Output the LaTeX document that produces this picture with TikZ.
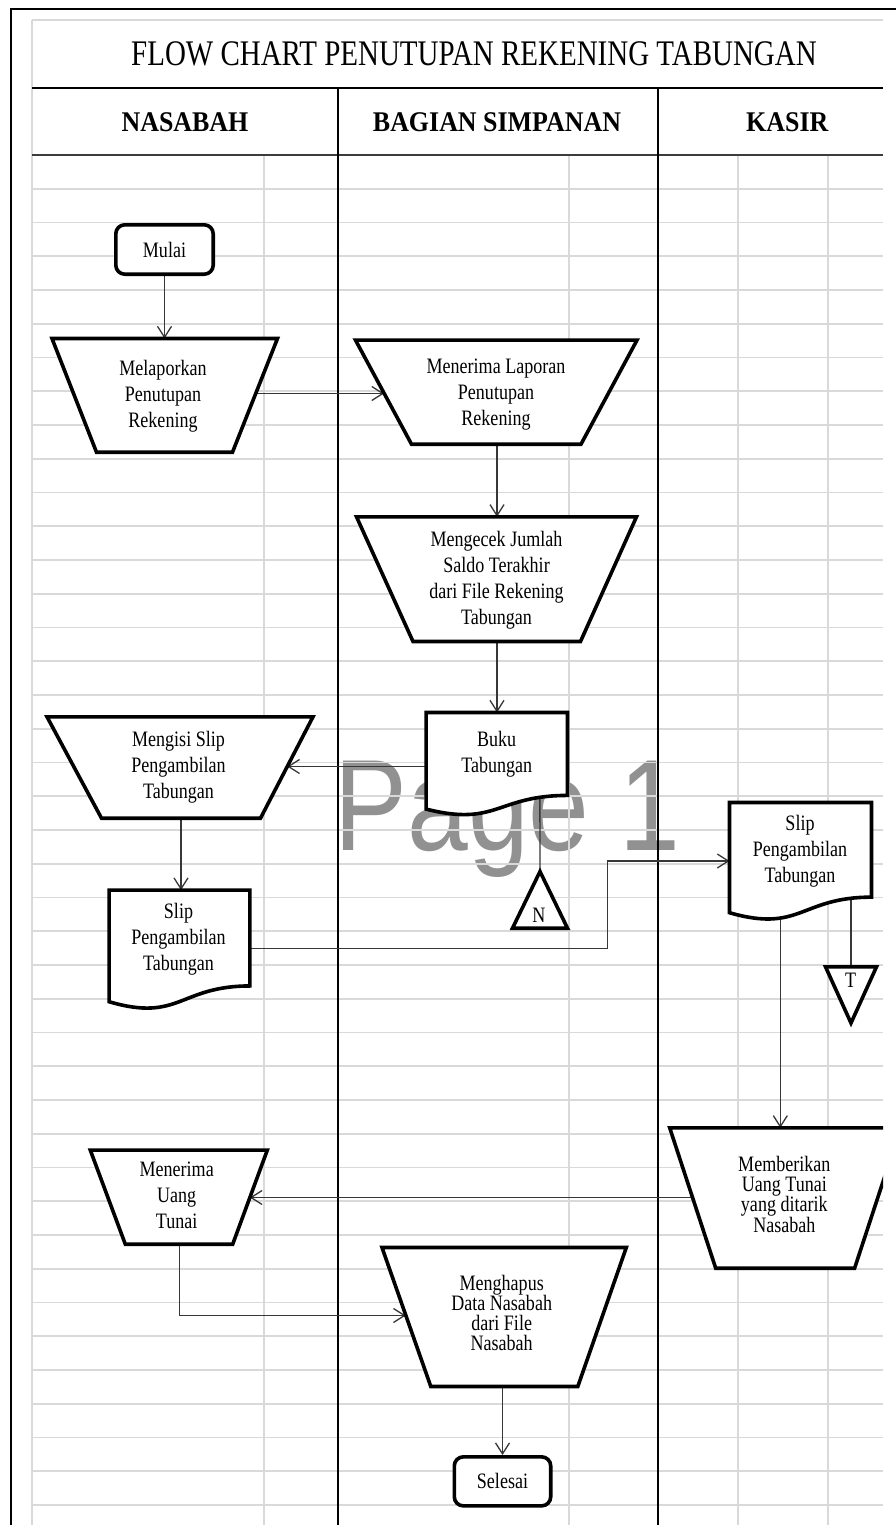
\documentclass[tikz,border=0pt]{standalone}
\usepackage{fontspec}
\setmainfont{Liberation Serif}
\newfontfamily\bodyf[FakeStretch=0.82]{Liberation Serif}
\newfontfamily\titlef[FakeStretch=0.805]{Liberation Serif}
\newfontfamily\headf[FakeStretch=0.91]{Liberation Serif}
\newfontfamily\markf[FakeStretch=0.84]{Liberation Sans}
\usetikzlibrary{arrows.meta}
\definecolor{gridc}{RGB}{217,217,217}
\definecolor{connc}{RGB}{55,55,55}
\definecolor{wmark}{RGB}{145,145,145}
\definecolor{hdrline}{RGB}{60,60,60}
\pgfdeclarelayer{bg}
\pgfdeclarelayer{conn}
\pgfsetlayers{bg,conn,main}
\newcommand{\mydoc}[4]{%
  \draw[shp] (#1,#2) -- ({#1+#3},#2) -- ({#1+#3},{#2+0.802*#4})
    .. controls ({#1+0.5*#3},{#2+0.802*#4}) and ({#1+0.5*#3},{#2+1.1075*#4}) .. (#1,{#2+0.934*#4}) -- cycle;}
\tikzset{
  shp/.style={draw=black, line width=3.6pt, fill=white},
  rshp/.style={shp, rounded corners=9pt},
  txt/.style={font=\bodyf\fontsize{22}{26}\selectfont, align=center, inner sep=0pt},
  tighttxt/.style={font=\bodyf\fontsize{22}{20.2}\selectfont, align=center, inner sep=0pt},
  conn/.style={draw=connc, line width=1.3pt},
  arr/.style={conn, -{Straight Barb[length=11pt,width=14pt]}},
  gridl/.style={draw=gridc, line width=1.6pt},
  colline/.style={draw=black, line width=1.2pt},
  titletxt/.style={font=\titlef\fontsize{36}{36}\selectfont, inner sep=0pt},
  headtxt/.style={font=\headf\bfseries\fontsize{28.5}{28.5}\selectfont, inner sep=0pt},
}
\begin{document}
\begin{tikzpicture}[x=1pt,y=-1pt]
\useasboundingbox (0,0) rectangle (896,1525);
% ---------- background, watermark, grid ----------
\begin{pgfonlayer}{bg}
  \fill[white] (0,0) rectangle (896,1525);
  \node[font=\markf\fontsize{130}{130}\selectfont, text=wmark, anchor=base west, inner sep=0pt] (wm) at (334.4,850) {Page 1};
  \foreach \k in {1,...,40} {\draw[gridl] (32,{155+33.75*\k}) -- (883,{155+33.75*\k});}
  \draw[gridl] (32,20) -- (883,20);
  \draw[gridl] (32,20) -- (32,1525);
  \foreach \xx in {264,569,738,828} {\draw[gridl] (\xx,155) -- (\xx,1525);}
  \draw[black, line width=1.3pt] (32,88) -- (883,88);
  \draw[hdrline, line width=2.2pt] (32,155) -- (883,155);
  \draw[colline] (338,88) -- (338,1525);
  \draw[colline] (658,88) -- (658,1525);
  \draw[black, line width=2.6pt] (11,1525) -- (11,9) -- (896,9);
\end{pgfonlayer}
% ---------- headings ----------
\node[titletxt] (title) at (474,53.4) {FLOW CHART PENUTUPAN REKENING TABUNGAN};
\node[headtxt] (h1) at (185,122.3) {NASABAH};
\node[headtxt] (h2) at (497,122.3) {BAGIAN SIMPANAN};
\node[headtxt] (h3) at (787.3,122.3) {KASIR};
% ---------- shapes ----------
\node[rshp, txt, minimum width=97.4pt, minimum height=49.4pt] (mulai) at (164.5,249.5) {Mulai};

\draw[shp] (52,338.5) -- (277.5,338.5) -- (232.5,452.2) -- (96.5,452.2) -- cycle;
\node[txt] (mel) at (163,395.9) {Melaporkan\\Penutupan\\Rekening};

\draw[shp] (355.5,340.1) -- (637,340.1) -- (581,444.2) -- (411.5,444.2) -- cycle;
\node[txt] (men) at (496,394.2) {Menerima Laporan\\Penutupan\\Rekening};

\draw[shp] (356.5,516.8) -- (636.5,516.8) -- (580.5,641.5) -- (413,641.5) -- cycle;
\node[txt] (cek) at (496.5,580.6) {Mengecek Jumlah\\Saldo Terakhir\\dari File Rekening\\Tabungan};

\mydoc{426.1}{712.5}{141.4}{103.4}
\node[txt] (buku) at (496.7,754.6) {Buku\\Tabungan};

\draw[shp] (47,716.8) -- (313,716.8) -- (260.5,818.2) -- (101.5,818.2) -- cycle;
\node[txt] (isi) at (178.5,767.6) {Mengisi Slip\\Pengambilan\\Tabungan};

\mydoc{109.1}{890.1}{140.8}{119.5}
\node[txt] (slip1) at (178.5,939.2) {Slip\\Pengambilan\\Tabungan};

\draw[shp] (540,871.5) -- (567.5,928.2) -- (512.5,928.2) -- cycle;
\node[txt] (nN) at (539,915.7) {N};

\mydoc{729.5}{802.5}{142}{118}
\node[txt] (slip2) at (800,850.9) {Slip\\Pengambilan\\Tabungan};

\draw[shp] (825.5,966.8) -- (876.5,966.8) -- (851,1023) -- cycle;
\node[txt] (nT) at (850.5,980.5) {T};

\begin{scope}
  \clip (0,0) rectangle (883,1525);
  \draw[shp] (669.7,1127.8) -- (900.7,1127.8) -- (854.6,1268.2) -- (715.7,1268.2) -- cycle;
\end{scope}
\node[tighttxt] (ber) at (784.3,1194.2) {Memberikan\\Uang Tunai\\yang ditarik\\Nasabah};

\draw[shp] (90.3,1150.1) -- (267.3,1150.1) -- (232.7,1244.2) -- (125.3,1244.2) -- cycle;
\node[txt] (ut) at (176.7,1195.8) {Menerima\\Uang\\Tunai};

\draw[shp] (382,1247.5) -- (626.3,1247.5) -- (577.8,1386.5) -- (430.8,1386.5) -- cycle;
\node[tighttxt] (hap) at (501.7,1312.8) {Menghapus\\Data Nasabah\\dari File\\Nasabah};

\node[rshp, txt, minimum width=96.4pt, minimum height=49pt] (sel) at (502.5,1481.35) {Selesai};
% ---------- connection points on shape borders ----------
\coordinate (mel-n) at (164.5,338.5);
\coordinate (mel-e) at (255.7,393.5);
\coordinate (men-w) at (384,393.5);
\coordinate (men-s) at (497,444.2);
\coordinate (cek-n) at (497,516.8);
\coordinate (cek-s) at (497,641.5);
\coordinate (buku-n) at (497,712.5);
\coordinate (buku-w) at (426.1,766.5);
\coordinate (isi-e) at (287.3,766.5);
\coordinate (isi-s) at (181,818.2);
\coordinate (slip1-n) at (181,890.1);
\coordinate (slip1-e) at (249.9,948.3);
\coordinate (bend1) at (607.7,948.3);
\coordinate (slip2-w) at (729.5,861);
\coordinate (buku-t) at (539.8,780);
\coordinate (nN-n) at (540,871.5);
\coordinate (slip2-t) at (851,880);
\coordinate (nT-n) at (851,966.8);
\coordinate (slip2-b) at (780.3,900);
\coordinate (ber-n) at (780.3,1127.8);
\coordinate (ber-w) at (692.5,1197.5);
\coordinate (ut-e) at (249.9,1197.5);
\coordinate (ut-s) at (179.3,1244.2);
\coordinate (hap-w) at (405.7,1315.5);
\coordinate (hap-s) at (502.5,1386.5);
% ---------- connectors ----------
\begin{pgfonlayer}{conn}
  \draw[arr] (mulai.south) -- (mel-n);
  \draw[arr] (mel-e) -- (men-w);
  \draw[arr] (men-s) -- (cek-n);
  \draw[arr] (cek-s) -- (buku-n);
  \draw[arr] (buku-w) -- (isi-e);
  \draw[arr] (isi-s) -- (slip1-n);
  \draw[arr] (slip1-e) -- (bend1) |- (slip2-w);
  \draw[conn] (buku-t) -- (nN-n);
  \draw[conn] (slip2-t) -- (nT-n);
  \draw[arr] (slip2-b) -- (ber-n);
  \draw[arr] (ber-w) -- (ut-e);
  \draw[arr] (ut-s) |- (hap-w);
  \draw[arr] (hap-s) -- (sel.north);
\end{pgfonlayer}
\end{tikzpicture}
\end{document}
